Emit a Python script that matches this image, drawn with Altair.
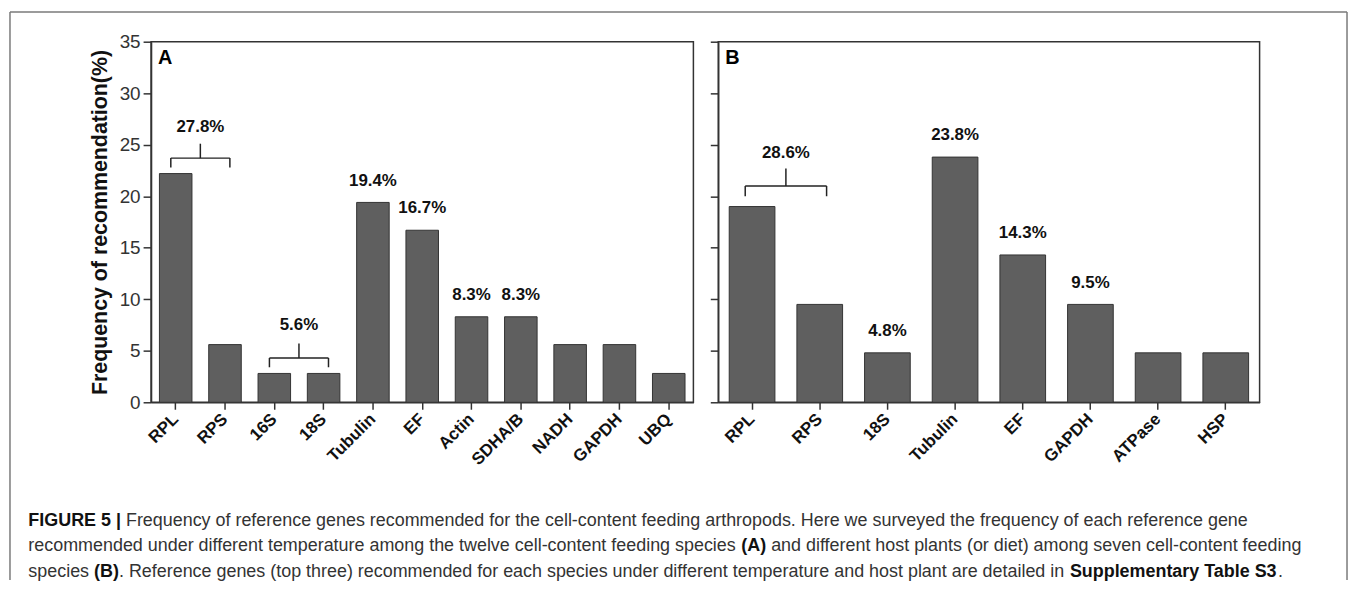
import altair as alt
import pandas as pd

# ---------------- data ----------------
cats_a = ["RPL", "RPS", "16S", "18S", "Tubulin", "EF", "Actin", "SDHA/B", "NADH", "GAPDH", "UBQ"]
vals_a = [22.2, 5.6, 2.8, 2.8, 19.4, 16.7, 8.3, 8.3, 5.6, 5.6, 2.8]
cats_b = ["RPL", "RPS", "18S", "Tubulin", "EF", "GAPDH", "ATPase", "HSP"]
vals_b = [19.0, 9.5, 4.8, 23.8, 14.3, 9.5, 4.8, 4.8]

lab_cats_a = ["Tubulin", "EF", "Actin", "SDHA/B"]
lab_vals_a = [19.4, 16.7, 8.3, 8.3]
lab_text_a = ["19.4%", "16.7%", "8.3%", "8.3%"]
lab_cats_b = ["18S", "Tubulin", "EF", "GAPDH"]
lab_vals_b = [4.8, 23.8, 14.3, 9.5]
lab_text_b = ["4.8%", "23.8%", "14.3%", "9.5%"]

# brackets: left cat, right cat, line value, leg-end value, tip value, label value, label
br_a_left = ["RPL", "16S"]
br_a_right = ["RPS", "18S"]
br_a_line = [23.7, 4.3]
br_a_leg = [22.8, 3.4]
br_a_tip = [25.1, 5.7]
br_a_lab = [26.7, 7.5]
br_a_text = ["27.8%", "5.6%"]

br_b_left = ["RPL"]
br_b_right = ["RPS"]
br_b_line = [21.0]
br_b_leg = [20.0]
br_b_tip = [22.7]
br_b_lab = [24.2]
br_b_text = ["28.6%"]

y_ticks = [0, 5, 10, 15, 20, 25, 30, 35]
y_title = "Frequency of recommendation(%)"

caption_lines = [
    [("FIGURE 5 |", True), (" Frequency of reference genes recommended for the cell-content feeding arthropods. Here we surveyed the frequency of each reference gene", False)],
    [("recommended under different temperature among the twelve cell-content feeding species ", False), ("(A)", True), (" and different host plants (or diet) among seven cell-content feeding", False)],
    [("species ", False), ("(B)", True), (". Reference genes (top three) recommended for each species under different temperature and host plant are detailed in ", False), ("Supplementary Table S3", True), (".", False)],
]

# ---------------- styling / layout ----------------
FONT = "Liberation Sans"
W_A, W_B, H = 546, 545, 363
PI_A, PI_B = 0.34, 0.325
BAR_FILL, BAR_STROKE = "#5f5f5f", "#333333"

# Arial / Liberation Sans advance widths (1/1000 em)
def _tab(groups):
    d = {}
    for chars, w in groups:
        for c in chars:
            d[c] = w
    return d

REG = _tab([(" !,./:;fIt[]", 278), ("()-r`", 333), ("0123456789abdeghnopqu?$#_L", 556),
            ("cksvxyzJ", 500), ("ABEKPSVXY&", 667), ("CDHNRUw", 722), ("FTZ", 611),
            ("GOQ", 778), ("Mm", 833), ("W", 944), ("ijl", 222), ("%", 889), ("|", 260)])
BOLD = _tab([(" .,:;Iijl", 278), ("()ft", 333), ("0123456789acegksvxy", 556),
             ("bdhnopqu", 611), ("ABCDHKNRU", 722), ("EPSVXY", 667), ("FTZL", 611),
             ("GOQw", 778), ("M", 833), ("m", 889), ("W", 944), ("r", 389), ("z", 500),
             ("J", 556), ("|", 280)])


def em_width(s, bold):
    t = BOLD if bold else REG
    return sum(t.get(ch, 556) for ch in s) / 1000.0


CAP_X0 = -123.5          # caption start, relative to panel A plot origin
CAP_LINE1_W = 1228.0     # measured width of caption line 1
CAP_BASE = [488, 513, 538.5]
cap_fs = CAP_LINE1_W / sum(em_width(s, b) for s, b in caption_lines[0])

X_AXIS = alt.Axis(title=None, labelAngle=-45, labelAlign="right", labelBaseline="middle",
                  labelFontSize=17, labelFontWeight="bold", labelColor="#111",
                  labelPadding=7, tickSize=7, labelFont=FONT)


def xenc(cats, pi, band=0.5):
    return alt.X("cat:N", scale=alt.Scale(domain=cats, paddingInner=pi, paddingOuter=pi / 2),
                 sort=None, bandPosition=band, axis=X_AXIS)


def yenc(show_labels):
    if show_labels:
        ax = alt.Axis(values=y_ticks, tickSize=8, labelFontSize=19, labelColor="#333",
                      labelPadding=3, title=y_title, titleFontSize=21.5, titleFontWeight="bold",
                      titleColor="#111", titlePadding=8, labelFont=FONT, titleFont=FONT)
    else:
        ax = alt.Axis(values=y_ticks, tickSize=8, labels=False, title="")
    return alt.Y("v:Q", scale=alt.Scale(domain=[0, 35], nice=False), axis=ax)


def panel(cats, vals, lcats, lvals, ltext, bl, br, bline, bleg, btip, blab, btext,
          width, pi, letter, show_labels, extras=()):
    step = width / len(cats)
    gap_half = pi * step / 2      # from end of a band to the midpoint between two bands
    y = yenc(show_labels)
    bars = alt.Chart(pd.DataFrame({"cat": cats, "v": vals})).mark_bar(
        fill=BAR_FILL, stroke=BAR_STROKE, strokeWidth=1
    ).encode(x=xenc(cats, pi), y=y)

    labels = alt.Chart(pd.DataFrame({"cat": lcats, "v": lvals, "t": ltext})).mark_text(
        font=FONT, fontSize=17, fontWeight="bold", color="#111", baseline="middle", dy=-22
    ).encode(x=xenc(cats, pi), y=y, text="t:N")

    bdf = pd.DataFrame({"cat": bl, "cat2": br, "v": bline, "leg": bleg, "tip": btip,
                        "lab": blab, "t": btext})
    rule_kw = dict(color="#222", strokeWidth=1.5)
    hline = alt.Chart(bdf).mark_rule(**rule_kw).encode(
        x=xenc(cats, pi, 0.35), x2=alt.X2("cat2:N", bandPosition=0.65), y=y)
    leg_l = alt.Chart(bdf).mark_rule(**rule_kw).encode(
        x=xenc(cats, pi, 0.35), y=y, y2="leg:Q")
    rdf = bdf.drop(columns=["cat"]).rename(columns={"cat2": "cat"})
    leg_r = alt.Chart(rdf).mark_rule(**rule_kw).encode(
        x=xenc(cats, pi, 0.65), y=y, y2="leg:Q")
    tip = alt.Chart(bdf).mark_rule(xOffset=gap_half, **rule_kw).encode(
        x=xenc(cats, pi, 1.0), y=y, y2="tip:Q")
    blabel = alt.Chart(bdf.drop(columns=["v"]).rename(columns={"lab": "v"})).mark_text(
        font=FONT, fontSize=17, fontWeight="bold", color="#111", baseline="middle", xOffset=gap_half
    ).encode(x=xenc(cats, pi, 1.0), y=y, text="t:N")

    letter_mark = alt.Chart(pd.DataFrame({"t": [letter]})).mark_text(
        font=FONT, fontSize=20, fontWeight="bold", color="#000", align="left", baseline="top"
    ).encode(x=alt.value(7), y=alt.value(6), text="t:N")

    layers = [bars, labels, hline, leg_l, leg_r, tip, blabel, letter_mark] + list(extras)
    return alt.layer(*layers).properties(width=width, height=H)


# caption segments + outer frame (drawn in panel A's coordinate system)
extras = []
for li, line in enumerate(caption_lines):
    cx = CAP_X0
    for seg, bold in line:
        lead = len(seg) - len(seg.lstrip(" "))
        txt = seg.strip(" ")
        x = cx + em_width(seg[:lead], bold) * cap_fs
        extras.append(
            alt.Chart(pd.DataFrame({"t": [txt]})).mark_text(
                font=FONT, fontSize=cap_fs, fontWeight="bold" if bold else "normal",
                color="#111" if bold else "#333", align="left", baseline="alphabetic"
            ).encode(x=alt.value(x), y=alt.value(CAP_BASE[li]), text="t:N")
        )
        cx += em_width(seg, bold) * cap_fs

FRAME_L, FRAME_R, FRAME_T, FRAME_B = -142, 1204, -30, 542
frame_style = dict(color="#7a7a7a", strokeWidth=1.5)
one = pd.DataFrame({"k": [0]})
extras += [
    alt.Chart(one).mark_rule(**frame_style).encode(
        x=alt.value(FRAME_L), x2=alt.value(FRAME_R), y=alt.value(FRAME_T)),
    alt.Chart(one).mark_rule(**frame_style).encode(
        x=alt.value(FRAME_L), y=alt.value(FRAME_T), y2=alt.value(FRAME_B)),
    alt.Chart(one).mark_rule(**frame_style).encode(
        x=alt.value(FRAME_R), y=alt.value(FRAME_T), y2=alt.value(FRAME_B)),
]

pa = panel(cats_a, vals_a, lab_cats_a, lab_vals_a, lab_text_a,
           br_a_left, br_a_right, br_a_line, br_a_leg, br_a_tip, br_a_lab, br_a_text,
           W_A, PI_A, "A", True, extras)
pb = panel(cats_b, vals_b, lab_cats_b, lab_vals_b, lab_text_b,
           br_b_left, br_b_right, br_b_line, br_b_leg, br_b_tip, br_b_lab, br_b_text,
           W_B, PI_B, "B", False)

chart = alt.hconcat(pa, pb, spacing=25, bounds="flush").properties(
    padding=0, background="white"
).configure_view(
    stroke="#333", strokeWidth=1.5
).configure_axis(
    domainColor="#333", domainWidth=1.5, tickColor="#333", tickWidth=1.5, grid=False,
    labelFont=FONT, titleFont=FONT
)

chart.save("out.html", embed_options={"renderer": "svg", "actions": False})
